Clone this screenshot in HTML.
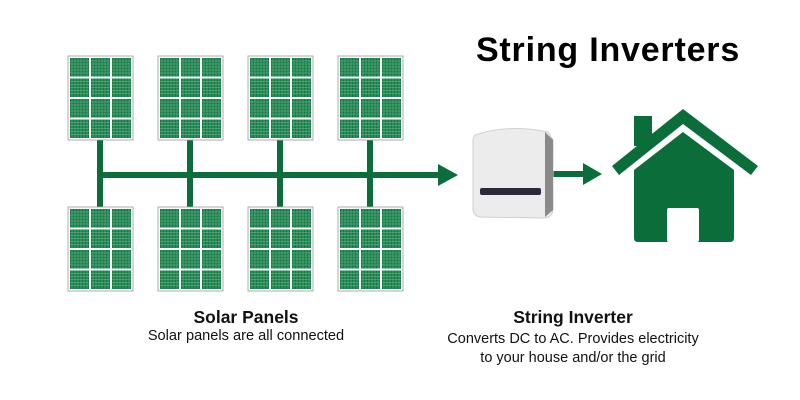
<!DOCTYPE html>
<html><head><style>
body{margin:0;width:800px;height:400px;background:#fff;overflow:hidden;font-family:"Liberation Sans",sans-serif}
.t{position:absolute;text-align:center;color:#111}
</style></head><body>
<svg width="800" height="400" style="position:absolute;left:0;top:0">
<defs>
<pattern id="cell" width="21" height="20.5" patternUnits="userSpaceOnUse" x="1" y="1">
<rect width="21" height="20.5" fill="#fff"/>
<rect x="1" y="1" width="19" height="18.5" fill="#127a45"/>
<path d="M3 1v18.5M6 1v18.5M9 1v18.5M12 1v18.5M15 1v18.5M18 1v18.5M1 4h19M1 7h19M1 10h19M1 13h19M1 16h19" stroke="#6fb58d" stroke-width="0.6"/>
</pattern>
<g id="p"><rect x="0" y="0" width="65" height="84" fill="#fff" stroke="#999" stroke-width="0.8"/><rect x="1" y="1" width="63" height="82" fill="url(#cell)"/></g>
</defs>
<g fill="#0b6e3a" stroke="#0b6e3a">
<g stroke-width="6">
<line x1="100" y1="140" x2="100" y2="208"/><line x1="190" y1="140" x2="190" y2="208"/>
<line x1="280" y1="140" x2="280" y2="208"/><line x1="370" y1="140" x2="370" y2="208"/>
<line x1="97" y1="175" x2="440" y2="175"/>
<line x1="553" y1="174" x2="585" y2="174"/>
</g>
<polygon points="438,164 458,175 438,186" stroke="none"/>
<polygon points="583,163 602,174 583,185" stroke="none"/>
</g>
<use href="#p" x="68" y="56"/><use href="#p" x="158" y="56"/><use href="#p" x="248" y="56"/><use href="#p" x="338" y="56"/>
<use href="#p" x="68" y="207"/><use href="#p" x="158" y="207"/><use href="#p" x="248" y="207"/><use href="#p" x="338" y="207"/>
<path d="M478 134 Q512 124 548 132 L553 140 L553 210 Q552 217 545 218 L480 217 Q473 216 473 208 L473 140 Q473 135 478 134Z" fill="#ececec" stroke="#d0d0d0"/>
<path d="M545 132 L553 140 L553 210 L545 217Z" fill="#8a8a8a"/>
<rect x="480" y="188" width="61" height="7" rx="2" fill="#2a2a3a"/>
<g fill="#0b6e3a">
<rect x="634" y="116" width="18" height="30"/>
<polygon points="683,109 758,166 751,175 683,124 619,175 612,166"/>
<path d="M683 132 L734 170 L734 238 Q734 242 730 242 L638 242 Q634 242 634 238 L634 170Z"/>
</g>
<rect x="667" y="208" width="32" height="34" rx="2" fill="#fff"/>
</svg>
<div class="t" style="left:408px;top:31px;width:400px;font-size:34px;letter-spacing:0.8px;font-weight:bold;color:#000">String Inverters</div>
<div class="t" style="left:96px;top:307px;width:300px;font-size:17.5px;font-weight:bold">Solar Panels</div>
<div class="t" style="left:96px;top:328px;width:300px;font-size:14.6px">Solar panels are all connected</div>
<div class="t" style="left:423px;top:307px;width:300px;font-size:17.5px;font-weight:bold">String Inverter</div>
<div class="t" style="left:423px;top:330px;width:300px;font-size:14.5px;line-height:19px">Converts DC to AC. Provides electricity<br>to your house and/or the grid</div>
</body></html>
